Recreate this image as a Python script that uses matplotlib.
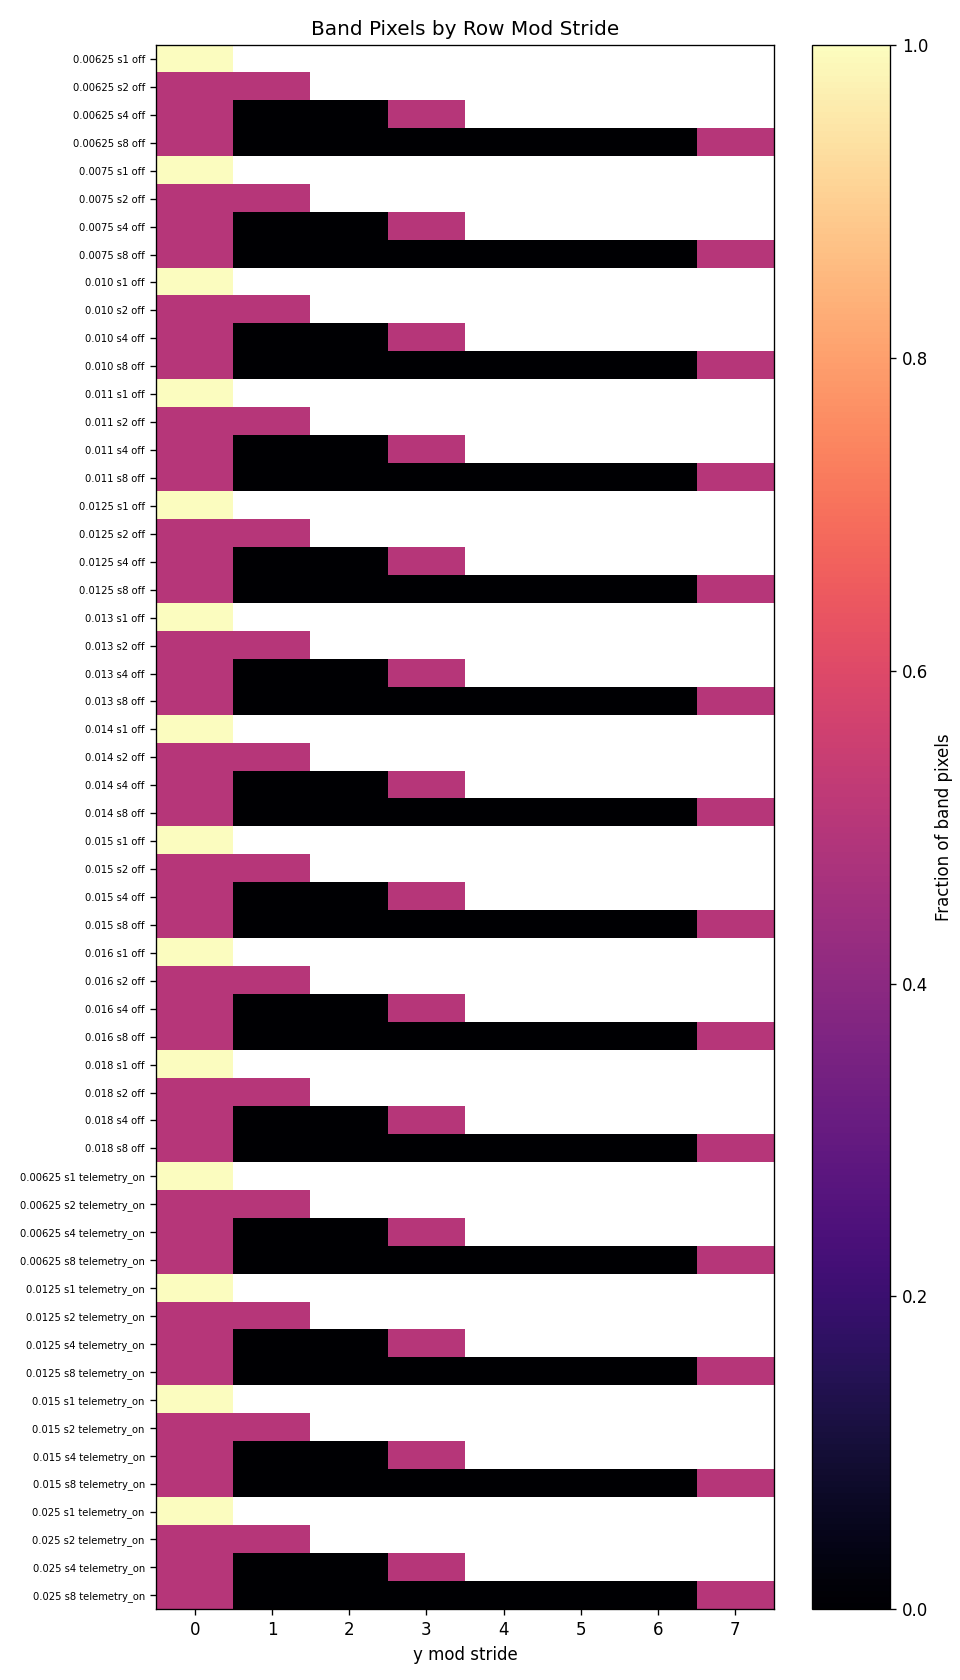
import numpy as np
import matplotlib
matplotlib.use("Agg")
import matplotlib.pyplot as plt

off_thresholds = ["0.00625", "0.0075", "0.010", "0.011", "0.0125", "0.013", "0.014", "0.015", "0.016", "0.018"]
on_thresholds = ["0.00625", "0.0125", "0.015", "0.025"]
strides = [1, 2, 4, 8]
# fraction of band pixels per (y mod stride) for each stride
stride_profiles = {
    1: [1.0],
    2: [0.5, 0.5],
    4: [0.5, 0.0, 0.0, 0.5],
    8: [0.5, 0.0, 0.0, 0.0, 0.0, 0.0, 0.0, 0.5],
}

labels = []
rows = []
for mode, ths in (("off", off_thresholds), ("telemetry_on", on_thresholds)):
    for t in ths:
        for s in strides:
            labels.append(f"{t} s{s} {mode}")
            r = [np.nan] * 8
            r[:len(stride_profiles[s])] = stride_profiles[s]
            rows.append(r)
data = np.array(rows)

W, H = 896, 1568
fig = plt.figure(figsize=(8, 14), dpi=120)
ax = fig.add_axes([146/W, 1 - 1502/H, (722-146)/W, (1502-42)/H])
cax = fig.add_axes([758/W, 1 - 1502/H, (831-758)/W, (1502-42)/H])
im = ax.imshow(data, cmap="magma", vmin=0, vmax=1, aspect="auto", interpolation="nearest")
ax.set_yticks(range(len(labels)))
ax.set_yticklabels(labels, fontsize=6)
ax.set_xticks(range(8))
ax.set_xlabel("y mod stride")
ax.set_title("Band Pixels by Row Mod Stride")
cb = fig.colorbar(im, cax=cax)
cb.set_label("Fraction of band pixels")
fig.savefig("out.png", dpi=120)
